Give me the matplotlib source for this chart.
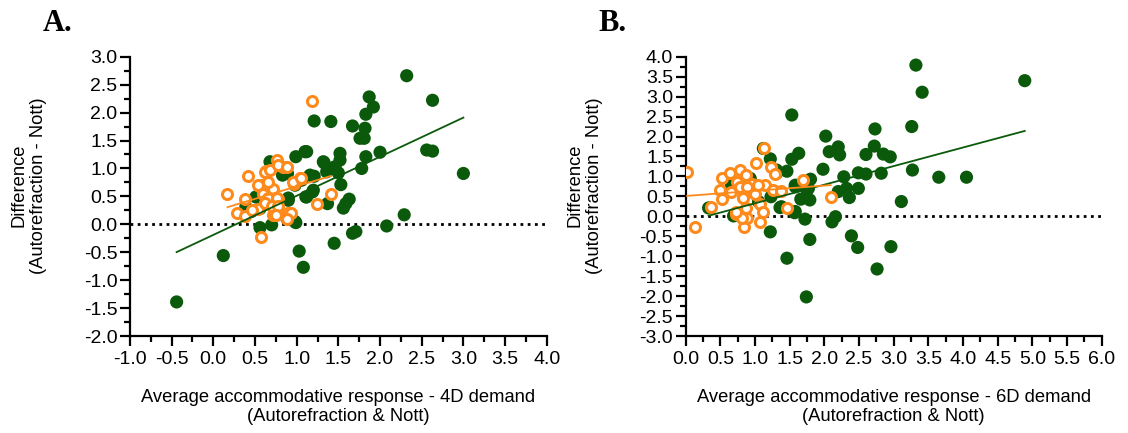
import numpy as np
import matplotlib
matplotlib.use("Agg")
import matplotlib.pyplot as plt
from matplotlib.ticker import MultipleLocator, FormatStrFormatter

plt.rcParams['font.family'] = ['Liberation Sans', 'DejaVu Sans']
plt.rcParams['axes.unicode_minus'] = False

GREEN = '#0b5a0b'
ORANGE = '#ff8a1c'

# ---- panel A (4D demand) ----
a_green_x = [-0.44, 0.12, 2.32, 2.63, 3.0, 2.56, 2.63, 2.29, 2.08, 2.0, 1.87, 1.92,
             1.83, 1.82, 1.76, 1.81, 1.83, 1.78, 1.67, 1.67, 1.71, 1.45, 1.63, 1.59,
             1.56, 1.53, 1.52, 1.52, 1.50, 1.46, 1.41, 1.37, 1.33, 1.36, 1.21, 1.12,
             1.21, 1.16, 1.19, 1.11, 1.06, 1.03, 1.08, 0.99, 0.99, 0.90, 0.89, 0.83,
             0.88, 0.70, 0.68, 0.56, 0.51, 0.39, 0.37, 0.46, 0.56, 0.98, 0.90, 0.98,
             1.12, 1.20, 1.32, 1.10]
a_green_y = [-1.39, -0.56, 2.66, 2.22, 0.91, 1.33, 1.31, 0.17, -0.03, 1.29, 2.28, 2.10,
             1.97, 1.72, 1.54, 1.54, 1.21, 1.00, 1.76, -0.16, -0.13, -0.34, 0.45, 0.37,
             0.29, 0.71, 1.27, 1.15, 0.92, 1.03, 1.84, 0.37, 1.10, 0.94, 1.85, 1.30,
             0.86, 0.88, 0.58, 0.49, 0.79, -0.48, -0.77, 1.21, 0.03, 0.43, 0.91, 0.88,
             0.11, -0.01, 1.12, -0.06, 0.49, 0.31, 0.20, 0.23, 0.28, 0.70, 0.47, 0.05,
             0.49, 0.61, 1.12, 1.30]
a_orange_x = [1.18, 0.17, 0.42, 0.38, 0.28, 0.38, 0.57, 0.76, 0.63, 0.84, 1.04, 0.97,
              1.24, 1.41, 0.90, 0.93, 0.88, 0.55, 0.54, 0.72, 0.78, 0.74, 0.72, 0.46,
              0.58, 0.62, 0.68, 0.78, 0.88, 0.66, 0.60, 0.66, 0.76, 0.62, 0.70, 0.78,
              0.75, 0.96, 1.05, 0.54]
a_orange_y = [2.20, 0.54, 0.86, 0.45, 0.21, 0.15, -0.23, 1.15, 0.95, 1.03, 0.83, 0.73,
              0.36, 0.54, 0.20, 0.20, 0.09, 0.68, 0.27, 0.64, 0.45, 0.20, 0.17, 0.26,
              0.70, 0.94, 0.97, 1.06, 1.03, 0.76, 0.55, 0.47, 0.47, 0.38, 0.32, 0.32,
              0.17, 0.76, 0.83, 0.70]
# fitted lines: (slope, intercept)
a_green_fit = (0.70, -0.19)
a_orange_fit = (0.45, 0.23)

# ---- panel B (6D demand) ----
b_green_x = [0.33, 0.69, 0.66, 0.93, 1.05, 1.12, 1.22, 1.22, 1.23, 1.31, 1.36, 1.46,
             1.46, 1.53, 1.53, 1.57, 1.58, 1.63, 1.66, 1.72, 1.74, 1.77, 1.79, 1.79,
             1.80, 1.98, 2.02, 2.07, 2.11, 2.16, 2.20, 2.22, 2.20, 2.28, 2.32, 2.36,
             2.39, 2.49, 2.49, 2.48, 2.60, 2.60, 2.72, 2.73, 2.76, 2.82, 2.85, 2.95,
             2.96, 3.11, 3.26, 3.27, 3.32, 3.41, 3.65, 4.05, 4.89, 1.31, 1.58, 1.75,
             1.38, 1.58]
b_green_y = [0.21, 0.01, 0.77, 0.95, 0.37, 1.70, 1.44, -0.39, 0.49, 1.16, 0.22, 1.13,
             -1.05, 2.54, 1.43, 0.09, 0.74, 1.58, 0.43, -0.07, -2.02, 0.70, 0.41, -0.58,
             0.93, 1.18, 2.01, 1.62, -0.14, -0.01, 1.74, 1.54, 0.62, 0.99, 0.70, 0.47,
             -0.49, 1.09, 0.70, -0.78, 1.06, 1.55, 1.76, 2.19, -1.32, 1.08, 1.56, 1.49,
             -0.76, 0.37, 2.25, 1.16, 3.79, 3.11, 0.98, 0.98, 3.40, 1.08, 0.78, 0.66,
             0.24, 0.12]
b_orange_x = [0.02, 0.13, 0.37, 0.52, 0.50, 0.53, 0.64, 0.66, 0.73, 0.74, 0.79, 0.83,
              0.84, 0.87, 0.87, 0.89, 0.93, 1.01, 1.00, 1.07, 1.07, 1.11, 1.13, 1.14,
              1.23, 1.29, 1.26, 1.37, 1.46, 1.69, 2.09, 0.78, 0.96, 1.04, 0.88, 0.81,
              0.72, 0.82]
b_orange_y = [1.12, -0.26, 0.24, 0.97, 0.66, 0.43, 1.08, 0.62, 0.07, 0.87, 1.16, 0.49,
              -0.26, 0.20, 1.03, -0.05, 0.66, 1.33, 0.55, -0.15, 0.32, 0.12, 1.70, 0.78,
              1.24, 1.06, 0.66, 0.64, 0.22, 0.91, 0.49, 0.74, 0.81, 0.78, 0.74, -0.05,
              0.10, 0.45]
b_green_fit = (0.466, -0.139)
b_orange_fit = (0.13, 0.51)


def fit_line(ax, xs, fit, color):
    lo, hi = min(xs), max(xs)
    xx = np.array([lo, hi])
    ax.plot(xx, fit[0] * xx + fit[1], color=color, lw=1.3, zorder=4)


def draw_panel(ax, gx, gy, ox, oy, gfit, ofit, xlim, ylim, xlabel, letter):
    ax.axhline(0, color='black', lw=2, ls=(0, (1, 1.6)), zorder=1)
    ax.scatter(gx, gy, s=90, color=GREEN, edgecolors='none', zorder=2)
    ax.scatter(ox, oy, s=52, facecolors='white', edgecolors=ORANGE,
               linewidths=2.2, zorder=3)
    fit_line(ax, gx, gfit, GREEN)
    fit_line(ax, ox, ofit, ORANGE)

    ax.set_xlim(*xlim)
    ax.set_ylim(*ylim)
    ax.xaxis.set_major_locator(MultipleLocator(0.5))
    ax.xaxis.set_minor_locator(MultipleLocator(0.25))
    ax.yaxis.set_major_locator(MultipleLocator(0.5))
    ax.yaxis.set_minor_locator(MultipleLocator(0.25))
    ax.xaxis.set_major_formatter(FormatStrFormatter('%.1f'))
    ax.yaxis.set_major_formatter(FormatStrFormatter('%.1f'))
    for s in ['top', 'right']:
        ax.spines[s].set_visible(False)
    for s in ['left', 'bottom']:
        ax.spines[s].set_linewidth(1.6)
    ax.tick_params(which='major', length=7.5, width=1.6, labelsize=14)
    ax.tick_params(which='minor', length=4.5, width=1.6)
    ax.tick_params(axis='x', which='major', pad=3)
    ax.tick_params(axis='y', which='major', pad=1.5)

    ax.set_xlabel(xlabel + "\n(Autorefraction & Nott)", fontsize=13.2,
                  linespacing=1.15)
    ax.xaxis.set_label_coords(0.5, -0.19)
    ax.set_ylabel("Difference\n(Autorefraction - Nott)", fontsize=13.2,
                  linespacing=1.15)
    ax.yaxis.set_label_coords(-0.20, 0.54)
    ax.text(-0.21, 1.12, letter, transform=ax.transAxes, fontsize=22,
            fontweight='bold', family='Liberation Serif', ha='left', va='center')


fig = plt.figure(figsize=(11.28, 4.33), dpi=100)
ax_a = fig.add_axes([0.1152, 0.224, 0.3695, 0.645])
ax_b = fig.add_axes([0.6079, 0.224, 0.3688, 0.645])

draw_panel(ax_a, a_green_x, a_green_y, a_orange_x, a_orange_y,
           a_green_fit, a_orange_fit, (-1.0, 4.0), (-2.0, 3.0),
           "Average accommodative response - 4D demand", "A.")
draw_panel(ax_b, b_green_x, b_green_y, b_orange_x, b_orange_y,
           b_green_fit, b_orange_fit, (0.0, 6.0), (-3.0, 4.0),
           "Average accommodative response - 6D demand", "B.")

fig.savefig("out.png", dpi=100)
